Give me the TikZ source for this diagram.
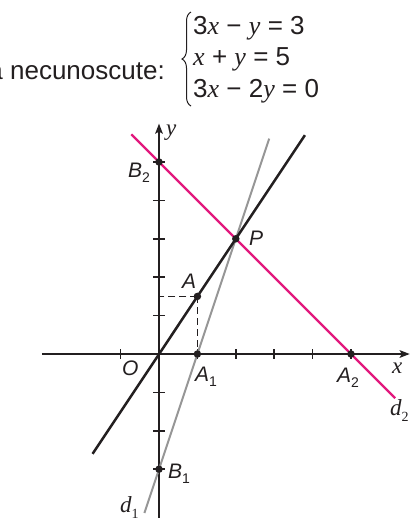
\documentclass[tikz,border=0pt]{standalone}
\usepackage{fontspec}
\setmainfont{Liberation Sans}
\newfontfamily\tms{Liberation Serif}
\usetikzlibrary{arrows.meta,decorations.pathreplacing}
\definecolor{ink}{RGB}{35,31,32}
\definecolor{pinkl}{RGB}{226,24,125}
\definecolor{grayl}{RGB}{150,150,150}
\newcommand\vx{{\tms\itshape x}}
\newcommand\vy{{\tms\itshape y}}
\newcommand\opsp{\hspace{0.28em}}
\newcommand\lsub[1]{\raisebox{-0.28em}{\fontsize{14}{14}\selectfont\upshape #1}}
\tikzset{
  eqn/.style={anchor=base west, inner sep=0, font=\fontsize{26}{26}\selectfont, text=ink},
  lbl/.style={anchor=base west, inner sep=0, font=\fontsize{21}{21}\selectfont\itshape, text=ink},
  vlbl/.style={anchor=base west, inner sep=0, font=\tms\fontsize{23}{23}\selectfont\itshape, text=ink},
  axisln/.style={draw=ink, line width=2.2pt},
  tickln/.style={draw=ink, line width=1.6pt},
  dotpt/.style={circle, fill=ink, inner sep=0, minimum size=7.5pt},
  dashln/.style={draw=ink, line width=1.8pt, dash pattern=on 7pt off 4pt},
}
\begin{document}
\begin{tikzpicture}[x=1pt,y=-1pt]
\useasboundingbox (0,0) rectangle (410,523);
\fill[white] (0,0) rectangle (410,523);
% heading text
\node[anchor=base east, inner sep=0, font=\fontsize{26}{26}\selectfont, text=ink] (txt) at (165,79) {a necunoscute:};
\draw[ink, line width=1pt, decorate, decoration={brace, amplitude=9pt}] (191,106) -- (191,12);
\node[eqn] (e1) at (193,34) {3\vx\opsp−\opsp\vy\opsp=\opsp3};
\node[eqn] (e2) at (193,65.5) {\vx\opsp+\opsp\vy\opsp=\opsp5};
\node[eqn] (e3) at (193,97) {3\vx\opsp−\opsp2\vy\opsp=\opsp0};
% graph
\begin{scope}[shift={(159pt,-354pt)}, x=38.4pt, y=38.4pt]
  \coordinate (xl) at (-3.05,0);
  \coordinate (xr) at (6.53,0);
  \coordinate (yb) at (0,-4.27);
  \coordinate (yt) at (0,6.0);
  \draw[axisln, -{Stealth[length=10pt,width=7.5pt,inset=2pt]}] (xl) -- (xr);
  \draw[axisln, -{Stealth[length=10pt,width=7.5pt,inset=2pt]}] (yb) -- (yt);
  \foreach \i in {-1,1,2,3,4,5} \draw[tickln] (\i,-0.12) -- (\i,0.12);
  \foreach \i in {-3,-2,-1,1,2,3,4,5} \draw[tickln] (-0.145,\i) -- (0.145,\i);
  % line ends
  \coordinate (g1) at (-0.38,-4.14);
  \coordinate (g2) at (2.87,5.61);
  \coordinate (k1) at (-1.73,-2.6);
  \coordinate (k2) at (3.8,5.7);
  \coordinate (p1) at (-0.72,5.72);
  \coordinate (p2) at (6.15,-1.15);
  \coordinate (Ay) at (0,1.5);
  \draw[grayl, line width=2pt] (g1) -- (g2);
  \draw[ink, line width=2.5pt] (k1) -- (k2);
  \draw[pinkl, line width=2.3pt] (p1) -- (p2);
  \node[dotpt] (A) at (1,1.5) {};
  \node[dotpt] (A1) at (1,0) {};
  \node[dotpt] (A2) at (5,0) {};
  \node[dotpt] (B1) at (0,-3) {};
  \node[dotpt] (B2) at (0,5) {};
  \node[dotpt] (P) at (2,3) {};
  \draw[dashln] (A.center) -- (A1.center);
  \draw[dashln] (A.center) -- (Ay);
\end{scope}
% labels
\node[vlbl] (ly) at (166,135) {y};
\node[vlbl] (lx) at (392,373) {x};
\node[lbl] (lO) at (122,375) {O};
\node[lbl] (lA1) at (195,381) {A\lsub{1}};
\node[lbl] (lA2) at (337,382) {A\lsub{2}};
\node[lbl] (lB1) at (168,478) {B\lsub{1}};
\node[lbl] (lB2) at (128,177) {B\lsub{2}};
\node[lbl] (lP) at (249,245) {P};
\node[lbl] (lA) at (182,288) {A};
\node[vlbl] (ld1) at (120,512) {d\lsub{1}};
\node[vlbl] (ld2) at (390,415) {d\lsub{2}};
\end{tikzpicture}
\end{document}
